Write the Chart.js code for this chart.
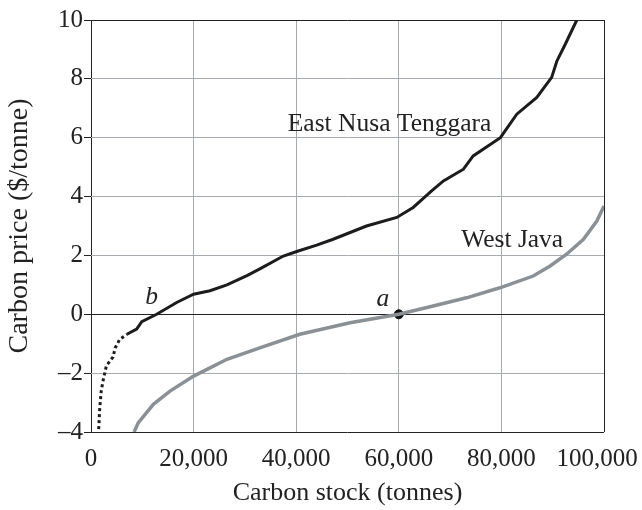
<!DOCTYPE html>
<html lang="en">
<head>
    <meta charset="UTF-8">
    <title>Carbon price vs carbon stock</title>
    <script src="https://cdn.jsdelivr.net/npm/chart.js"></script>
    <style>
        body {
            margin: 0;
            background: #fff;
        }
        .chart-container {
            width: 642px;
            height: 510px;
        }
    </style>
</head>
<body>
<div class="chart-container">
    <canvas id="supplyChart"></canvas>
</div>

<script>
    // East Nusa Tenggara (black)
    const entStock = [1500, 1700, 2000, 2300, 3000, 4300, 4700, 5600, 7000, 8900, 9900, 12800, 16700, 20000, 23200, 26500, 30500, 33000, 37500, 40400, 44000, 47200, 53700, 59600, 62800, 66400, 68700, 72600, 74500, 79800, 83000, 86900, 89800, 90800, 92400, 94700];
    const entPrice = [-3.9, -3.2, -2.6, -2.3, -1.75, -1.45, -1.15, -0.85, -0.68, -0.5, -0.25, 0, 0.4, 0.68, 0.8, 1.0, 1.32, 1.55, 1.98, 2.15, 2.35, 2.55, 3.0, 3.29, 3.63, 4.19, 4.53, 4.93, 5.38, 6.0, 6.8, 7.37, 8.05, 8.6, 9.16, 10.0];

    // West Java (grey)
    const wjStock = [8400, 9200, 12150, 15400, 20000, 23200, 26500, 32900, 40700, 50500, 60000, 66700, 73200, 79700, 86200, 89500, 92700, 96000, 98600, 100000];
    const wjPrice = [-4.0, -3.69, -3.06, -2.61, -2.1, -1.82, -1.53, -1.14, -0.68, -0.29, 0, 0.28, 0.56, 0.9, 1.3, 1.64, 2.04, 2.55, 3.17, 3.68];

    // marked point a
    const pointA = [{ x: 60000, y: 0 }];

    // text labels placed in data units
    const textLabels = [
        { text: 'East Nusa Tenggara', x: 58200, y: 6.23, italic: false },
        { text: 'West Java', x: 82100, y: 2.27, italic: false },
        { text: 'a', x: 56900, y: 0.28, italic: true },
        { text: 'b', x: 11800, y: 0.34, italic: true }
    ];

    const FONT = "'Liberation Serif', 'Times New Roman', serif";
    const GRID = '#a7abaf';
    const DARK = '#222';

    function toPoints(xs, ys) {
        return xs.map((x, i) => ({ x: x, y: ys[i] }));
    }

    const labelPlugin = {
        id: 'textLabels',
        beforeDraw(chart) {
            // pull the last x tick label a little inside the canvas
            const items = chart.scales.x.getLabelItems();
            const last = items[items.length - 1];
            if (last && !last._moved) {
                last.options.translation = [last.options.translation[0] - 7, last.options.translation[1]];
                last._moved = true;
            }
        },
        afterDatasetsDraw(chart) {
            const ctx = chart.ctx;
            const xs = chart.scales.x, ys = chart.scales.y;
            ctx.save();
            ctx.fillStyle = DARK;
            ctx.textAlign = 'center';
            ctx.textBaseline = 'alphabetic';
            textLabels.forEach(l => {
                ctx.font = (l.italic ? 'italic ' : '') + '25.5px ' + FONT;
                ctx.fillText(l.text, xs.getPixelForValue(l.x), ys.getPixelForValue(l.y));
            });
            ctx.restore();
        }
    };

    new Chart(document.getElementById('supplyChart').getContext('2d'), {
        type: 'line',
        data: {
            datasets: [
                {
                    label: 'East Nusa Tenggara',
                    data: toPoints(entStock, entPrice),
                    borderColor: '#1c1c1c',
                    borderWidth: 3,
                    pointRadius: 0,
                    tension: 0,
                    segment: {
                        borderDash: c => c.p0.parsed.y < -0.7 ? [3, 3] : undefined
                    }
                },
                {
                    label: 'West Java',
                    data: toPoints(wjStock, wjPrice),
                    borderColor: '#8b9095',
                    borderWidth: 3.5,
                    pointRadius: 0,
                    tension: 0
                },
                {
                    label: 'a',
                    data: pointA,
                    showLine: false,
                    pointRadius: 4.5,
                    pointBackgroundColor: '#111',
                    pointBorderColor: '#111'
                }
            ]
        },
        options: {
            responsive: true,
            maintainAspectRatio: false,
            animation: false,
            layout: { padding: { top: 20, right: 38, left: 0, bottom: 0 } },
            plugins: {
                legend: { display: false },
                tooltip: { enabled: false }
            },
            scales: {
                x: {
                    type: 'linear',
                    min: 0,
                    max: 100000,
                    border: { display: false },
                    grid: {
                        color: c => (c.tick.value === 0 || c.tick.value === 100000) ? DARK : GRID,
                        lineWidth: 1,
                        tickLength: 0
                    },
                    ticks: {
                        stepSize: 20000,
                        padding: 12,
                        color: DARK,
                        font: { family: FONT, size: 25 },
                        maxRotation: 0,
                        callback: v => v.toLocaleString('en-US')
                    },
                    title: {
                        display: true,
                        text: 'Carbon stock (tonnes)',
                        color: DARK,
                        font: { family: FONT, size: 26 },
                        padding: { top: 0, bottom: 1 }
                    },
                    afterFit: s => {
                        s.height = 78;
                        s.paddingLeft = 0;
                        s.paddingRight = 0;
                    }
                },
                y: {
                    min: -4,
                    max: 10,
                    border: { display: false },
                    grid: {
                        color: c => (c.tick.value === 0 || c.tick.value === 10 || c.tick.value === -4) ? DARK : GRID,
                        tickColor: DARK,
                        lineWidth: 1,
                        tickLength: 7
                    },
                    ticks: {
                        stepSize: 2,
                        padding: 1,
                        color: DARK,
                        font: { family: FONT, size: 25 },
                        callback: v => String(v).replace('-', '\u2013')
                    },
                    title: {
                        display: true,
                        text: 'Carbon price ($/tonne)',
                        color: DARK,
                        font: { family: FONT, size: 28 },
                        padding: { top: 3, bottom: 0 }
                    },
                    afterFit: s => {
                        s.width = 91;
                        s.paddingTop = 0;
                        s.paddingBottom = 0;
                    }
                }
            }
        },
        plugins: [labelPlugin]
    });
</script>
</body>
</html>
